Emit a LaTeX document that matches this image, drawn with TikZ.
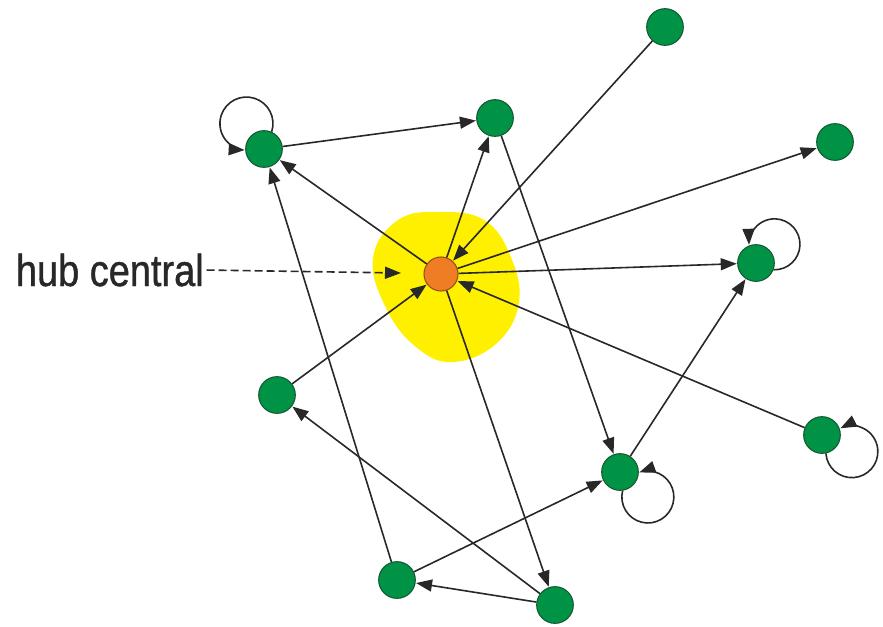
\documentclass[tikz,border=0pt]{standalone}
\usepackage{fontspec}
\setmainfont{Liberation Sans}
\newfontfamily\lblfont[FakeBold=1]{Liberation Sans}
\usetikzlibrary{arrows.meta}
\definecolor{ngreen}{RGB}{0,146,69}
\definecolor{ngreenD}{RGB}{20,90,50}
\definecolor{horange}{RGB}{238,125,35}
\definecolor{horangeD}{RGB}{150,80,20}
\definecolor{hyellow}{RGB}{255,240,0}
\definecolor{lc}{RGB}{40,40,40}
\tikzset{
  gnode/.style={circle, fill=ngreen, draw=ngreenD, line width=0.8pt, minimum size=27.5pt, inner sep=0pt},
  hnode/.style={circle, fill=horange, draw=horangeD, line width=0.8pt, minimum size=25.5pt, inner sep=0pt},
  conn/.style={draw=lc, line width=1.2pt, -{Triangle[length=12pt,width=9pt]}, shorten >=0.3pt},
  lbl/.style={font=\lblfont\fontsize{33.5}{40}\selectfont, text=lc, inner sep=2pt},
}
\begin{document}
\begin{tikzpicture}[x=0.75pt,y=-0.75pt]
\useasboundingbox (0,0) rectangle (883,626);
% yellow blob
\fill[hyellow] plot[smooth cycle, tension=0.7] coordinates {(398,220) (440,212) (484,220) (510,255) (519,302) (497,343) (453,362) (416,347) (386,308) (373,258)};
% nodes
\node[hnode] (hub) at (441,274) {};
\node[gnode] (A) at (264,149) {};
\node[gnode] (B) at (495,118) {};
\node[gnode] (C) at (665,27) {};
\node[gnode] (D) at (835,142) {};
\node[gnode] (E) at (756,263) {};
\node[gnode] (F) at (277,395) {};
\node[gnode] (G) at (620,472) {};
\node[gnode] (H) at (822,435) {};
\node[gnode] (I) at (397,580) {};
\node[gnode] (J) at (555,605) {};
% label
\node[lbl, anchor=base west] (lab) at (13,286) {\scalebox{0.85}[1]{hub central}};
\coordinate (labtip) at (401,273);
\draw[draw=lc, line width=1.2pt, dash pattern=on 6pt off 3pt, -{Triangle[length=12pt,width=9pt]}] (lab.east) -- (labtip);
% connectors
\draw[conn] (A) -- (B);
\draw[conn] (hub) -- (A);
\draw[conn] (hub) -- (B);
\draw[conn] (C) -- (hub);
\draw[conn] (hub) -- (D);
\draw[conn] (hub) -- (E);
\draw[conn] (H) -- (hub);
\draw[conn] (F) -- (hub);
\draw[conn] (hub) -- (J);
\draw[conn] (B) -- (G);
\draw[conn] (G) -- (E);
\draw[conn] (I) -- (A);
\draw[conn] (J) -- (F);
\draw[conn] (I) -- (G);
\draw[conn] (J) -- (I);
% self loops (circular)
\draw[conn] (A.66) arc[start angle=-18, end angle=267, radius=19.9pt];
\draw[conn] (E.-21) arc[start angle=-92, end angle=182, radius=19.1pt];
\draw[conn] (G.-82) arc[start angle=166, end angle=470, radius=19.5pt];
\draw[conn] (H.-78) arc[start angle=184, end angle=477, radius=19.5pt];
\end{tikzpicture}
\end{document}
